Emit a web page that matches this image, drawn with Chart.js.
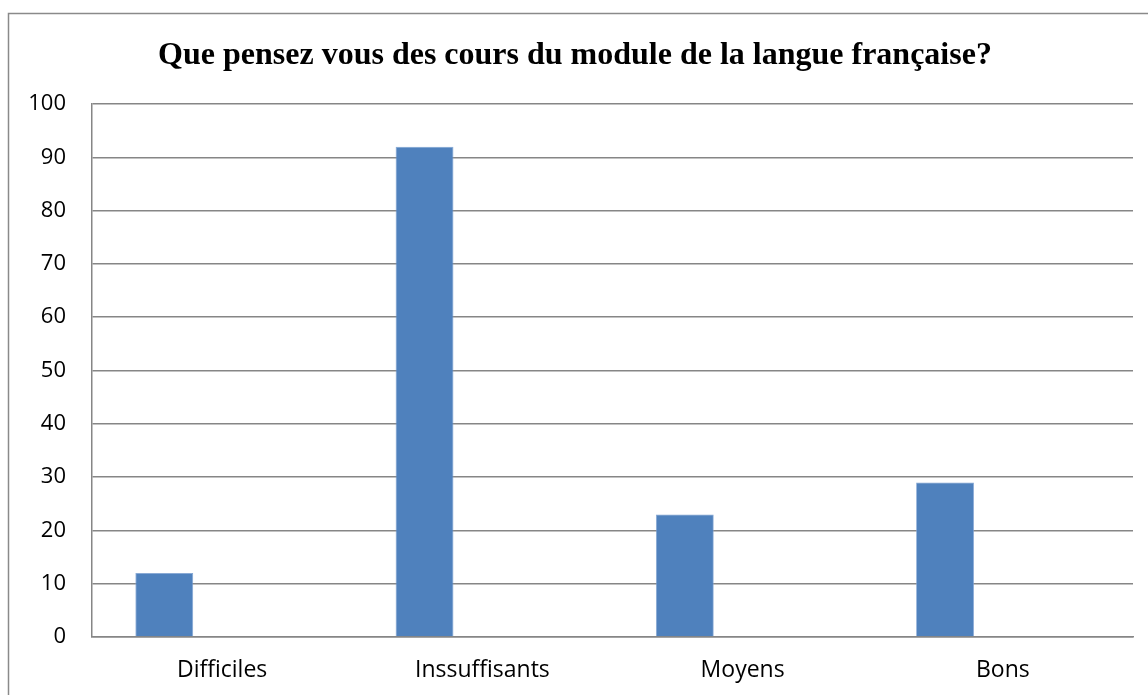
<!DOCTYPE html>
<html>
<head>
<meta charset="utf-8">
<script src="https://cdn.jsdelivr.net/npm/chart.js@4/dist/chart.umd.min.js"></script>
<style>
  html, body { margin: 0; padding: 0; background: #fff; overflow: hidden; }
  #wrap { position: relative; width: 1148px; height: 695px; }
</style>
</head>
<body>
<div id="wrap"><canvas id="chart" width="1148" height="695"></canvas></div>
<script>
const categories = ["Difficiles", "Inssuffisants", "Moyens", "Bons"];
const reponses = [12, 92, 23, 29];
// the original sheet has two more (empty) series, which is why the bars sit left in each slot
const serie2 = [null, null, null, null];
const serie3 = [null, null, null, null];
const yTicks = [0, 10, 20, 30, 40, 50, 60, 70, 80, 90, 100];

const gridColor = "#868686";

// outer chart frame (runs off the right and bottom of the picture)
const framePlugin = {
  id: "frame",
  beforeDraw(chart) {
    const ctx = chart.ctx;
    ctx.save();
    ctx.strokeStyle = "#8a8a8a";
    ctx.lineWidth = 1.5;
    ctx.strokeRect(8.5, 13.5, 2000, 2000);
    ctx.restore();
  },
};

const ctx = document.getElementById("chart").getContext("2d");

new Chart(ctx, {
  type: "bar",
  data: {
    labels: categories,
    datasets: [
      { label: "Série 1", data: reponses, backgroundColor: "#4F81BD", borderColor: "#7fa3d3", borderWidth: 0.8 },
      { label: "Série 2", data: serie2, backgroundColor: "#C0504D" },
      { label: "Série 3", data: serie3, backgroundColor: "#9BBB59" },
    ],
  },
  options: {
    responsive: false,
    animation: false,
    categoryPercentage: 2 / 3,
    barPercentage: 1,
    layout: {
      padding: { top: 0, right: 15, bottom: 0, left: 17 },
    },
    plugins: {
      legend: { display: false },
      tooltip: { enabled: false },
      title: {
        display: true,
        text: "Que pensez vous des cours du module de la langue française?",
        color: "#000",
        font: { family: "'Liberation Serif', 'Times New Roman', serif", size: 32, weight: "bold" },
        padding: { top: 37, bottom: 28.6 },
      },
    },
    scales: {
      x: {
        grid: { display: false, drawTicks: false },
        border: { display: true, color: gridColor, width: 1.5 },
        ticks: {
          color: "#000",
          font: { family: "'Open Sans', sans-serif", size: 23 },
          padding: 20,
          maxRotation: 0,
        },
        afterFit(scale) {
          scale.height = 58;
        },
      },
      y: {
        min: 0,
        max: 100,
        afterBuildTicks(scale) {
          scale.ticks = yTicks.map((v) => ({ value: v }));
        },
        grid: { color: gridColor, lineWidth: 1.5, drawTicks: false },
        border: { display: true, color: gridColor, width: 1.5 },
        ticks: {
          color: "#000",
          font: { family: "'Open Sans', sans-serif", size: 22 },
          padding: 26,
        },
        afterFit(scale) {
          scale.width = 75;
        },
      },
    },
  },
  plugins: [framePlugin],
});
</script>
</body>
</html>
